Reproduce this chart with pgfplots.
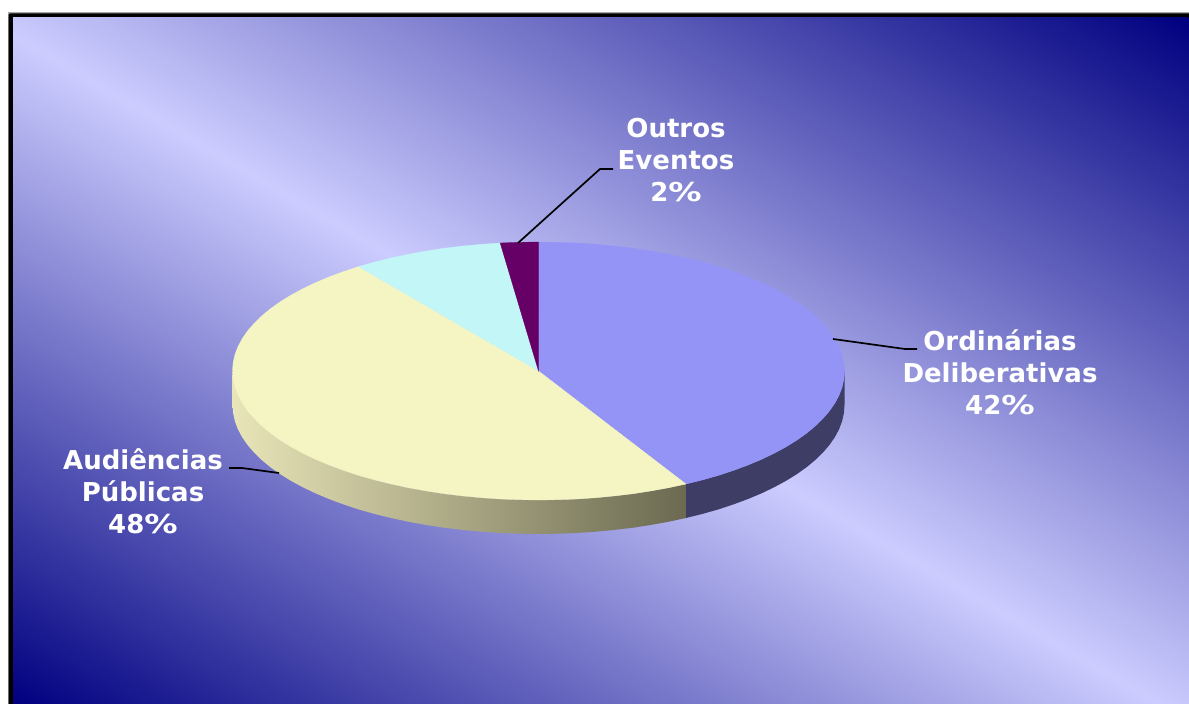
\documentclass[border=0pt]{standalone}
\usepackage{pgfplots}
\pgfplotsset{compat=1.18}
\usepackage{fontspec}
\setmainfont{DejaVu Sans}
\definecolor{bgdark}{HTML}{000080}
\definecolor{bglight}{HTML}{CCCCFF}
\definecolor{sliceA}{HTML}{9494F7}
\definecolor{sliceB}{HTML}{F5F5C4}
\definecolor{sliceC}{HTML}{C3F6F6}
\definecolor{sliceD}{HTML}{660066}
\definecolor{wallA}{HTML}{3D3D66}
\definecolor{wallL}{HTML}{E8E5B8}
\definecolor{wallR}{HTML}{6B6950}
\pgfdeclareverticalshading{bgband}{1500pt}{color(0pt)=(bgdark); color(577.5pt)=(bglight); color(1185pt)=(bgdark)}
\newcommand{\pct}{\scalebox{1.28}[1]{\%}}
\begin{document}
\begin{tikzpicture}[x=1pt,y=1pt]
\useasboundingbox (0,0) rectangle (1189,704);
\path[fill=white] (0,0) rectangle (1189,704);
\path[fill=gray!70] (8,0) rectangle (1189,691.5);
\begin{scope}
\clip (8,0) rectangle (1189,704);
\path[fill=black,rounded corners=1.5pt] (8.7,-10) rectangle (1200,690.7);
\end{scope}
\begin{scope}
\clip (13,0) rectangle (1189,686);
\node[inner sep=0pt,outer sep=0pt,rotate=-30.26] at (601,343) {\pgfuseshading{bgband}};
\end{scope}
\begin{axis}[
  at={(0,0)}, anchor=south west,
  hide axis, scale only axis, width=1189pt, height=704pt,
  xmin=0, xmax=1189, ymin=0, ymax=704, y dir=reverse,
  no marks,
  every axis plot/.append style={forget plot},
]
% side wall, Ordinárias Deliberativas
\addplot[draw=none,fill=wallA] coordinates {
(844.5,371)(843.9,379.1)(842.1,387.2)(839.1,395.2)(834.9,403.1)(829.5,410.9)(823,418.5)(815.4,425.9)(806.6,433.2)(796.9,440.1)(786.1,446.8)(774.3,453.2)(761.6,459.3)(748,465)(733.5,470.4)(718.4,475.4)(702.5,479.9)(685.9,484)
(685.9,518)(702.5,513.9)(718.4,509.4)(733.5,504.4)(748,499)(761.6,493.3)(774.3,487.2)(786.1,480.8)(796.9,474.1)(806.6,467.2)(815.4,459.9)(823,452.5)(829.5,444.9)(834.9,437.1)(839.1,429.2)(842.1,421.2)(843.9,413.1)(844.5,405)
} -- cycle;
% side wall, Audiências Públicas
\addplot[draw=none,shade,left color=wallL,right color=wallR] coordinates {
(685.9,484)(668.8,487.7)(651.1,490.9)(633.1,493.7)(614.6,495.9)(595.8,497.7)(576.8,499)(557.7,499.7)(538.5,500)(519.3,499.7)(500.2,499)(481.2,497.7)(462.4,495.9)(443.9,493.7)(425.9,490.9)(408.2,487.7)(391.1,484)(374.5,479.9)(358.6,475.4)(343.5,470.4)(329,465)(315.4,459.3)(302.7,453.2)(290.9,446.8)(280.1,440.1)(270.4,433.2)(261.6,425.9)(254,418.5)(247.5,410.9)(242.1,403.1)(237.9,395.2)(234.9,387.2)(233.1,379.1)(232.5,371)
(232.5,405)(233.1,413.1)(234.9,421.2)(237.9,429.2)(242.1,437.1)(247.5,444.9)(254,452.5)(261.6,459.9)(270.4,467.2)(280.1,474.1)(290.9,480.8)(302.7,487.2)(315.4,493.3)(329,499)(343.5,504.4)(358.6,509.4)(374.5,513.9)(391.1,518)(408.2,521.7)(425.9,524.9)(443.9,527.7)(462.4,529.9)(481.2,531.7)(500.2,533)(519.3,533.7)(538.5,534)(557.7,533.7)(576.8,533)(595.8,531.7)(614.6,529.9)(633.1,527.7)(651.1,524.9)(668.8,521.7)(685.9,518)
} -- cycle;

% top faces: 42 %, 48 %, 8 %, 2 %
\addplot[draw=sliceA,line width=0.3pt,fill=sliceA] coordinates {
(538.5,371)(538.5,242)(557.7,242.3)(576.8,243)(595.8,244.3)(614.6,246.1)(633.1,248.3)(651.1,251.1)(668.8,254.3)(685.9,258)(702.5,262.1)(718.4,266.6)(733.5,271.6)(748,277)(761.6,282.7)(774.3,288.8)(786.1,295.2)(796.9,301.9)(806.6,308.8)(815.4,316.1)(823,323.5)(829.5,331.1)(834.9,338.9)(839.1,346.8)(842.1,354.8)(843.9,362.9)(844.5,371)(843.9,379.1)(842.1,387.2)(839.1,395.2)(834.9,403.1)(829.5,410.9)(823,418.5)(815.4,425.9)(806.6,433.2)(796.9,440.1)(786.1,446.8)(774.3,453.2)(761.6,459.3)(748,465)(733.5,470.4)(718.4,475.4)(702.5,479.9)(685.9,484)
} -- cycle;
\addplot[draw=sliceB,line width=0.3pt,fill=sliceB] coordinates {
(538.5,371)(685.9,484)(668.8,487.7)(651.1,490.9)(633.1,493.7)(614.6,495.9)(595.8,497.7)(576.8,499)(557.7,499.7)(538.5,500)(519.3,499.7)(500.2,499)(481.2,497.7)(462.4,495.9)(443.9,493.7)(425.9,490.9)(408.2,487.7)(391.1,484)(374.5,479.9)(358.6,475.4)(343.5,470.4)(329,465)(315.4,459.3)(302.7,453.2)(290.9,446.8)(280.1,440.1)(270.4,433.2)(261.6,425.9)(254,418.5)(247.5,410.9)(242.1,403.1)(237.9,395.2)(234.9,387.2)(233.1,379.1)(232.5,371)(233.1,362.9)(234.9,354.8)(237.9,346.8)(242.1,338.9)(247.5,331.1)(254,323.5)(261.6,316.1)(270.4,308.8)(280.1,301.9)(290.9,295.2)(302.7,288.8)(315.4,282.7)(329,277)(343.5,271.6)(358.6,266.6)
} -- cycle;
\addplot[draw=sliceC,line width=0.3pt,fill=sliceC] coordinates {
(538.5,371)(358.6,266.6)(374.5,262.1)(391.1,258)(408.2,254.3)(425.9,251.1)(443.9,248.3)(462.4,246.1)(481.2,244.3)(500.2,243)
} -- cycle;
\addplot[draw=sliceD,line width=0.3pt,fill=sliceD] coordinates {
(538.5,371)(500.2,243)(519.3,242.3)(538.5,242)
} -- cycle;

% leader lines
\addplot[black,line width=1.7pt] coordinates {(518,243)(600,169)(613,169)};
\addplot[black,line width=1.7pt] coordinates {(833,339)(905,349)(917,349)};
\addplot[black,line width=1.7pt] coordinates {(279,473)(242,468)(229,468)};

\node[text=white,align=center,font=\fontsize{26}{32}\selectfont\bfseries] at (axis cs:676,160) {Outros\\Eventos\\2\pct};
\node[text=white,align=center,font=\fontsize{26}{32}\selectfont\bfseries] at (axis cs:1000,372) {Ordinárias\\Deliberativas\\42\pct};
\node[text=white,align=center,font=\fontsize{26}{32}\selectfont\bfseries] at (axis cs:143,491) {Audiências\\Públicas\\48\pct};
\end{axis}
\end{tikzpicture}
\end{document}
